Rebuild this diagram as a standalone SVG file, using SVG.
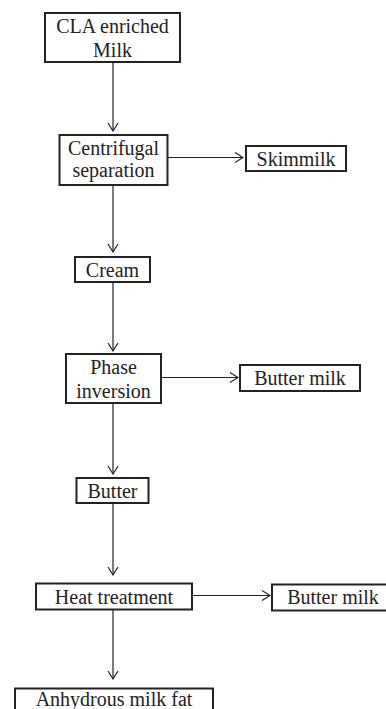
<svg xmlns="http://www.w3.org/2000/svg" width="386" height="709" viewBox="0 0 386 709">
<defs>
<marker id="arr" viewBox="0 0 10 12" refX="9" refY="6" markerWidth="10" markerHeight="12" markerUnits="userSpaceOnUse" orient="auto">
<path d="M1,1 L9,6 L1,11" fill="none" stroke="#222" stroke-width="1.2"/>
</marker>
<style>
.box{fill:#fff;stroke:#222;stroke-width:2}
.t{font-size:20px;fill:#222;text-anchor:middle}
.c{stroke:#222;stroke-width:1.2;fill:none;marker-end:url(#arr)}
</style>
</defs>
<rect width="386" height="709" fill="#fff"/>
<g id="connectors">
<line class="c" x1="113" y1="62" x2="113" y2="131"/>
<line class="c" x1="167" y1="157.5" x2="243" y2="157.5"/>
<line class="c" x1="113" y1="185" x2="113" y2="252"/>
<line class="c" x1="113" y1="282" x2="113" y2="351"/>
<line class="c" x1="161" y1="377.5" x2="238" y2="377.5"/>
<line class="c" x1="113" y1="403" x2="113" y2="474"/>
<line class="c" x1="113" y1="503" x2="113" y2="575"/>
<line class="c" x1="192" y1="595.5" x2="270" y2="595.5"/>
<line class="c" x1="113" y1="609" x2="113" y2="679"/>
</g>
<g font-family="Liberation Serif, Times New Roman, serif">
<g id="n1"><rect class="box" x="45" y="13" width="135" height="49"/><text class="t" x="112.5" y="33">CLA enriched</text><text class="t" x="112.5" y="57">Milk</text></g>
<g id="n2"><rect class="box" x="59.5" y="135" width="108" height="50"/><text class="t" x="113.5" y="155">Centrifugal</text><text class="t" x="113.5" y="177">separation</text></g>
<g id="n3"><rect class="box" x="246" y="146" width="100" height="25"/><text class="t" x="296" y="165.5">Skimmilk</text></g>
<g id="n4"><rect class="box" x="75" y="257" width="75" height="25"/><text class="t" x="112.5" y="276.5">Cream</text></g>
<g id="n5"><rect class="box" x="66" y="354" width="95" height="49"/><text class="t" x="113.5" y="373.5">Phase</text><text class="t" x="113.5" y="397.5">inversion</text></g>
<g id="n6"><rect class="box" x="240" y="365" width="120" height="26"/><text class="t" x="300" y="385">Butter milk</text></g>
<g id="n7"><rect class="box" x="76.5" y="478" width="72" height="25"/><text class="t" x="112.5" y="497.5">Butter</text></g>
<g id="n8"><rect class="box" x="36" y="583.5" width="156" height="26"/><text class="t" x="114" y="603.5">Heat treatment</text></g>
<g id="n9"><rect class="box" x="272" y="584.5" width="120" height="26"/><text class="t" x="333" y="604">Butter milk</text></g>
<g id="n10"><rect class="box" x="15" y="688.5" width="198" height="30"/><text class="t" x="114" y="706">Anhydrous milk fat</text></g>
</g>
</svg>
